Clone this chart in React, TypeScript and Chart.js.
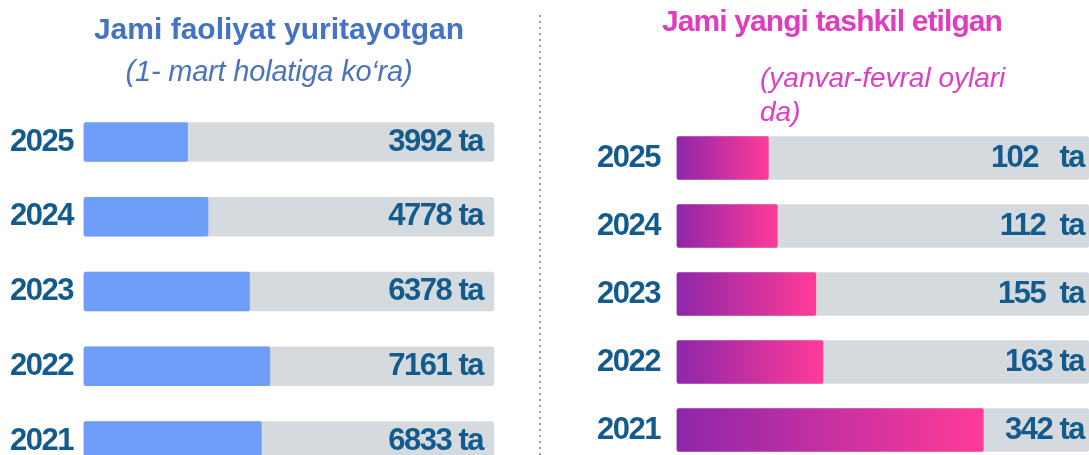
import React, { useEffect, useRef } from "react";
import { Chart, registerables } from "chart.js";

Chart.register(...registerables);

// ---- data ----
const years = ["2025", "2024", "2023", "2022", "2021"];
const activeValues = [3992, 4778, 6378, 7161, 6833];
const newValues = [102, 112, 155, 163, 342];
const activeLabels = ["3992 ta", "4778 ta", "6378 ta", "7161 ta", "6833 ta"];
const newLabels = ["102   ta", "112  ta", "155  ta", "163 ta", "342 ta"];
const activeScaleMax = 15800;
const newScaleMax = 460;

const leftTitle = "Jami faoliyat yuritayotgan";
const leftSubtitle = "(1- mart holatiga ko‘ra)";
const rightTitle = "Jami yangi tashkil etilgan";
const rightSubtitleLines = ["(yanvar-fevral oylari", "da)"];

// ---- styles ----
const FONT = "'Liberation Sans', Arial, sans-serif";
const TEXT_BLUE = "#135b8d";
const TRACK = "#d5dadf";
const LEFT_FILL = "#6f9ef8";
const GRAD_START = "#8f26a9";
const GRAD_END = "#ff3b98";
const NUM_SPACING = "-1.5px";
const NUM_SIZE = 31;

const spacingPlugin = {
  id: "condensedText",
  beforeDraw(chart: any) {
    chart.ctx.save();
    (chart.ctx as any).letterSpacing = NUM_SPACING;
  },
  afterDraw(chart: any) {
    chart.ctx.restore();
  },
};

const valueLabelPlugin = {
  id: "valueLabels",
  afterDatasetsDraw(chart: any, _args: any, opts: any) {
    const { ctx, chartArea } = chart;
    const meta = chart.getDatasetMeta(0);
    ctx.save();
    ctx.letterSpacing = NUM_SPACING;
    ctx.font = `bold ${NUM_SIZE}px ${FONT}`;
    ctx.fillStyle = TEXT_BLUE;
    ctx.textAlign = "right";
    ctx.textBaseline = "middle";
    meta.data.forEach((el: any, i: number) => {
      ctx.fillText(opts.labels[i], chartArea.right - opts.inset, el.y);
    });
    ctx.restore();
  },
};

function makeConfig(p: {
  values: number[];
  labels: string[];
  max: number;
  fill: any;
  thickness: number;
  padLeft: number;
  axisWidth: number;
  padRight: number;
  padTop: number;
  padBottom: number;
  inset: number;
}): any {
  return {
    type: "bar",
    data: {
      labels: years,
      datasets: [
        {
          data: p.values,
          backgroundColor: p.fill,
          borderRadius: 2,
          borderSkipped: false,
          barThickness: p.thickness,
          grouped: false,
          order: 0,
          clip: false,
        },
        {
          data: years.map(() => p.max),
          backgroundColor: TRACK,
          borderRadius: 3,
          borderSkipped: false,
          barThickness: p.thickness,
          grouped: false,
          order: 1,
          clip: false,
        },
      ],
    },
    options: {
      indexAxis: "y",
      responsive: false,
      animation: false,
      devicePixelRatio: 1,
      layout: {
        padding: { left: p.padLeft, right: p.padRight, top: p.padTop, bottom: p.padBottom },
      },
      scales: {
        x: { display: false, min: 0, max: p.max },
        y: {
          offset: false,
          grid: { display: false, drawTicks: false },
          border: { display: false },
          ticks: {
            crossAlign: "far",
            padding: 0,
            color: TEXT_BLUE,
            font: { family: FONT, size: NUM_SIZE, weight: "bold", lineHeight: 0.8 },
          },
          afterFit: (s: any) => {
            s.width = p.axisWidth;
          },
        },
      },
      plugins: {
        legend: { display: false },
        tooltip: { enabled: false },
        valueLabels: { labels: p.labels, inset: p.inset },
      },
    },
    plugins: [spacingPlugin, valueLabelPlugin],
  };
}

const gradientFill = (c: any) => {
  const chart = c.chart;
  const xs = chart.scales && chart.scales.x;
  if (!chart.chartArea || !xs || !c.parsed) return GRAD_END;
  const x0 = xs.getPixelForValue(0);
  const x1 = xs.getPixelForValue(c.parsed.x);
  const g = chart.ctx.createLinearGradient(x0, 0, x1, 0);
  g.addColorStop(0, GRAD_START);
  g.addColorStop(1, GRAD_END);
  return g;
};

export default function App() {
  const leftRef = useRef<HTMLCanvasElement>(null);
  const rightRef = useRef<HTMLCanvasElement>(null);

  useEffect(() => {
    const left = new Chart(
      leftRef.current as HTMLCanvasElement,
      makeConfig({
        values: activeValues,
        labels: activeLabels,
        max: activeScaleMax,
        fill: LEFT_FILL,
        thickness: 39,
        padLeft: 10,
        axisWidth: 74,
        padRight: 46,
        padTop: 142,
        padBottom: 14,
        inset: 11,
      })
    );
    const right = new Chart(
      rightRef.current as HTMLCanvasElement,
      makeConfig({
        values: newValues,
        labels: newLabels,
        max: newScaleMax,
        fill: gradientFill,
        thickness: 43,
        padLeft: 57,
        axisWidth: 80,
        padRight: 0,
        padTop: 158,
        padBottom: 25,
        inset: 5,
      })
    );
    return () => {
      left.destroy();
      right.destroy();
    };
  }, []);

  return (
    <div
      style={{
        position: "absolute",
        left: 0,
        top: 0,
        width: 1089,
        height: 455,
        overflow: "hidden",
        background: "#ffffff",
        fontFamily: FONT,
      }}
    >
      <canvas ref={leftRef} width={540} height={455} style={{ position: "absolute", left: 0, top: 0 }} />
      <canvas ref={rightRef} width={549} height={455} style={{ position: "absolute", left: 540, top: 0 }} />
      <div
        style={{
          position: "absolute",
          left: 539,
          top: 15,
          width: 2,
          height: 440,
          background:
            "repeating-linear-gradient(to bottom, #a0a0a0 0px, #a0a0a0 2px, transparent 2px, transparent 6px)",
        }}
      />
      <div
        style={{
          position: "absolute",
          left: 79,
          top: 14,
          width: 400,
          textAlign: "center",
          fontWeight: "bold",
          fontSize: 30,
          lineHeight: "30px",
          color: "#4472c4",
          whiteSpace: "nowrap",
        }}
      >
        {leftTitle}
      </div>
      <div
        style={{
          position: "absolute",
          left: 69,
          top: 57,
          width: 400,
          textAlign: "center",
          fontStyle: "italic",
          fontSize: 29,
          lineHeight: "29px",
          letterSpacing: "-0.2px",
          color: "#4a72c0",
          whiteSpace: "nowrap",
        }}
      >
        {leftSubtitle}
      </div>
      <div
        style={{
          position: "absolute",
          left: 632,
          top: 6,
          width: 400,
          textAlign: "center",
          fontWeight: "bold",
          fontSize: 30,
          lineHeight: "30px",
          letterSpacing: "-0.9px",
          color: "#e03cbe",
          whiteSpace: "nowrap",
        }}
      >
        {rightTitle}
      </div>
      <div
        style={{
          position: "absolute",
          left: 760,
          top: 61,
          fontStyle: "italic",
          fontSize: 28,
          lineHeight: "34px",
          color: "#dd3fc0",
          whiteSpace: "nowrap",
        }}
      >
        {rightSubtitleLines.map((l, i) => (
          <div key={i}>{l}</div>
        ))}
      </div>
    </div>
  );
}
